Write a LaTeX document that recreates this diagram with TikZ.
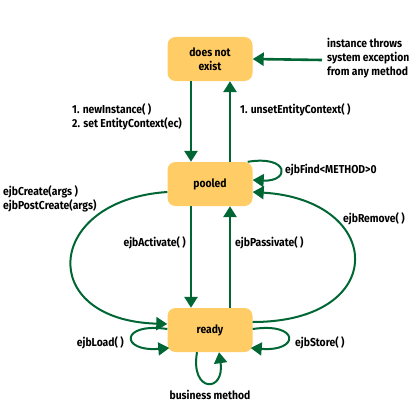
\documentclass[tikz,border=0pt]{standalone}
\usepackage{fontspec}
\setmainfont{Fira Sans}[FakeStretch=0.9]
\usetikzlibrary{arrows.meta}
\definecolor{ejbgreen}{RGB}{0,102,51}
\definecolor{ejbgold}{RGB}{255,204,102}
\begin{document}
\begin{tikzpicture}[line cap=butt,line join=round,x=1pt,y=-1pt,
  font=\fontsize{11.5}{14}\selectfont\bfseries,
  state/.style={fill=ejbgold,rounded corners=8pt,minimum width=85pt,minimum height=44pt,align=center,inner sep=0pt},
  lbl/.style={inner sep=0pt,align=left},
  trans/.style={draw=ejbgreen,line width=2.6pt,-{Triangle[width=13pt,length=11pt]},color=ejbgreen},
  loop/.style={draw=ejbgreen,line width=2pt,-{Triangle[width=13pt,length=11pt]},color=ejbgreen}]
\useasboundingbox (0,0) rectangle (420,420);
\node[state] (dne) at (210,59) {does not\\exist};
\node[state] (pooled) at (210,184) {pooled};
\node[state] (ready) at (210,330) {ready};
\coordinate (exc) at (322,60);
\draw[trans] (exc) -- (dne.east);
\draw[trans] ([xshift=-19pt]dne.south) -- ([xshift=-19pt]pooled.north);
\draw[trans] ([xshift=20pt]pooled.north) -- ([xshift=20pt]dne.south);
\draw[trans] ([xshift=-19pt]pooled.south) -- ([xshift=-19pt]ready.north);
\draw[trans] ([xshift=20pt]ready.north) -- ([xshift=20pt]pooled.south);
% loops and arcs
\draw[loop] ([xshift=-5pt]pooled.north east) .. controls (290,155) and (290,182) .. ([yshift=4pt]pooled.east);
\draw[loop] ([yshift=-8pt]pooled.west) .. controls (45,200) and (35,320) .. ([yshift=6pt]ready.west);
\draw[loop] ([yshift=8pt]ready.east) .. controls (390,322) and (385,200) .. ([yshift=-8pt]pooled.east);
\draw[loop] ([yshift=1pt]ready.west) .. controls (120,322) and (120,352) .. ([xshift=2pt,yshift=-18pt]ready.west);
\draw[loop] ([yshift=1pt]ready.east) .. controls (300,322) and (300,352) .. ([xshift=-2pt,yshift=-18pt]ready.east);
\draw[loop] ([xshift=-13pt]ready.south) .. controls (190,393) and (225,393) .. ([xshift=9pt]ready.south);
% labels
\node[lbl,anchor=west] (excl) at (327,58) {instance throws\\system exception\\from any method};
\node[lbl,anchor=west] (newl) at (72,117) {1. newInstance( )\\2. set EntityContext(ec)};
\node[lbl,anchor=west] (unsetl) at (240,110) {1. unsetEntityContext( )};
\node[lbl,anchor=west] (findl) at (285,170) {ejbFind<METHOD>0};
\node[lbl,anchor=west] (createl) at (3,199) {ejbCreate(args )\\ejbPostCreate(args)};
\node[lbl,anchor=west] (removel) at (343,219) {ejbRemove( )};
\node[lbl,anchor=east] (actl) at (186,243) {ejbActivate( )};
\node[lbl,anchor=west] (passl) at (235,243) {ejbPassivate( )};
\node[lbl,anchor=east] (loadl) at (124,343) {ejbLoad( )};
\node[lbl,anchor=west] (storel) at (295,343) {ejbStore( )};
\node[lbl] (busl) at (210,395) {business method};
\end{tikzpicture}
\end{document}
